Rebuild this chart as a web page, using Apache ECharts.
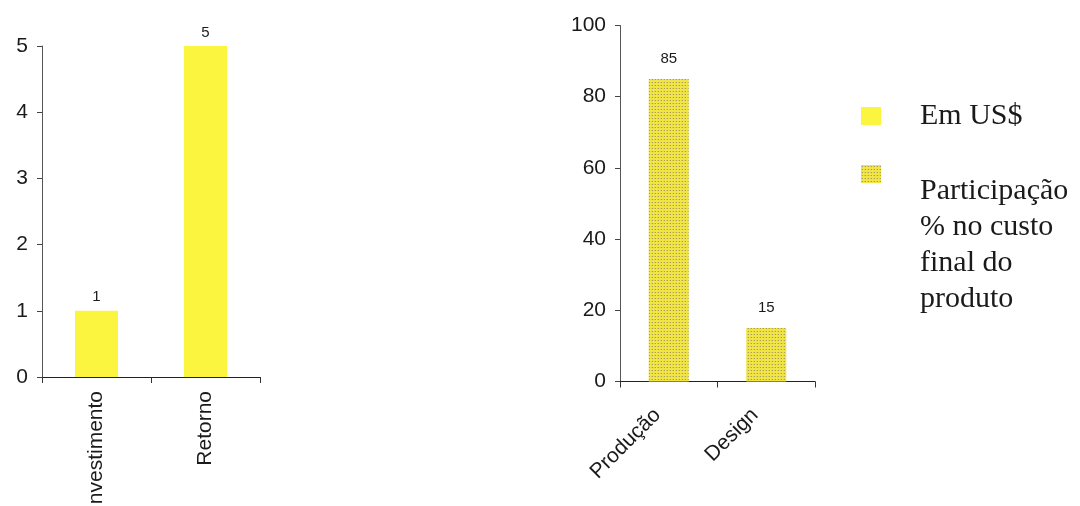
<!DOCTYPE html>
<html>
<head>
<meta charset="utf-8">
<script src="https://cdn.jsdelivr.net/npm/echarts@6/dist/echarts.min.js"></script>
<style>
  html, body { margin: 0; padding: 0; background: #ffffff; }
  #chart { width: 1080px; height: 506px; }
</style>
</head>
<body>
<div id="chart"></div>
<script>
// Left panel: investment vs. return (Em US$)
const returnCategories = ['Investimento', 'Retorno'];
const returnValues = [1, 5];

// Right panel: share of final product cost (%)
const costCategories = ['Produção', 'Design'];
const costValues = [85, 15];

const seriesNames = ['Em US$', 'Participação % no custo final do produto'];
const costLegendLines = ['Participação', '% no custo', 'final do', 'produto'];

// Stippled yellow fill for the cost bars
function makeStipple() {
  const c = document.createElement('canvas');
  c.width = 3; c.height = 3;
  const g = c.getContext('2d');
  g.fillStyle = '#f1e445';
  g.fillRect(0, 0, 3, 3);
  g.fillStyle = '#a89d63';
  g.fillRect(1, 1, 1, 1);
  g.fillStyle = '#d8cc55';
  g.fillRect(0, 1, 1, 1);
  return c;
}
const stipple = { image: makeStipple(), repeat: 'repeat' };

const sans = 'Liberation Sans, Arial, sans-serif';
const serif = 'Liberation Serif, Times New Roman, serif';
const ink = '#1a1a1a';

const yAxisStyle = {
  axisLine: { show: true, lineStyle: { color: '#555555', width: 1 } },
  axisTick: { show: true, length: 5, lineStyle: { color: '#444444' } },
  splitLine: { show: false }
};
const xAxisStyle = {
  axisLine: { show: true, lineStyle: { color: '#222222', width: 1 } },
  axisTick: { show: true, length: 6, alignWithLabel: false, lineStyle: { color: '#333333' } },
  splitLine: { show: false }
};

const chart = echarts.init(document.getElementById('chart'));
chart.setOption({
  animation: false,
  backgroundColor: '#ffffff',
  grid: [
    { left: 42, top: 46, width: 218, height: 331, outerBoundsMode: 'none' },
    { left: 620, top: 25.5, width: 195, height: 356, outerBoundsMode: 'none' }
  ],
  xAxis: [
    Object.assign({}, xAxisStyle, {
      type: 'category', gridIndex: 0, data: returnCategories,
      axisLabel: { rotate: 90, margin: 14, fontFamily: sans, fontSize: 21, color: ink }
    }),
    Object.assign({}, xAxisStyle, {
      type: 'category', gridIndex: 1, data: costCategories,
      axisLabel: {
        rotate: 45, margin: 19, color: ink,
        formatter: v => '{c|' + v + '}',
        rich: { c: { fontFamily: sans, fontSize: 21, padding: [0, 16, 0, 0] } }
      }
    })
  ],
  yAxis: [
    Object.assign({}, yAxisStyle, {
      type: 'value', gridIndex: 0, min: 0, max: 5, interval: 1,
      axisLabel: { margin: 14, fontFamily: sans, fontSize: 21, color: ink }
    }),
    Object.assign({}, yAxisStyle, {
      type: 'value', gridIndex: 1, min: 0, max: 100, interval: 20,
      axisLabel: { margin: 14, fontFamily: sans, fontSize: 21, color: ink }
    })
  ],
  legend: [
    {
      left: 861, top: 101, padding: 0,
      data: [seriesNames[0]],
      icon: 'rect', itemWidth: 20, itemHeight: 18,
      formatter: name => '{s|}{t|' + name + '}',
      textStyle: {
        rich: {
          s: { width: 34 },
          t: { fontFamily: serif, fontSize: 30, color: ink }
        }
      }
    },
    {
      left: 861, top: 97, padding: 0,
      data: [seriesNames[1]],
      icon: 'rect', itemWidth: 20, itemHeight: 18,
      formatter: () => '{g| }\n' + costLegendLines.map(l => '{s|}{t|' + l + '}').join('\n'),
      textStyle: {
        rich: {
          g: { lineHeight: 142, fontSize: 10 },
          s: { width: 34 },
          t: { fontFamily: serif, fontSize: 30, lineHeight: 36, color: ink }
        }
      }
    }
  ],
  series: [
    {
      name: seriesNames[0], type: 'bar', xAxisIndex: 0, yAxisIndex: 0,
      data: returnValues, barWidth: 43,
      itemStyle: { color: '#fbf540' },
      label: { show: true, position: 'top', distance: 6, fontFamily: sans, fontSize: 15, color: ink }
    },
    {
      name: seriesNames[1], type: 'bar', xAxisIndex: 1, yAxisIndex: 1,
      data: costValues, barWidth: 40,
      itemStyle: { color: stipple },
      label: { show: true, position: 'top', distance: 13, fontFamily: sans, fontSize: 15, color: ink }
    }
  ]
});
</script>
</body>
</html>
